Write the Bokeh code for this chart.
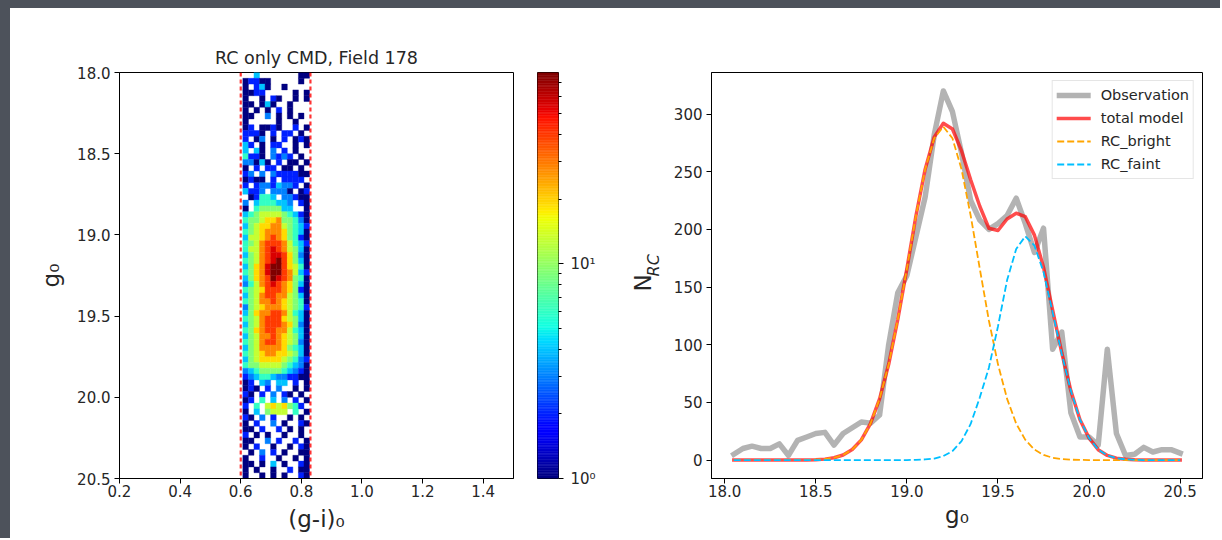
import math
import numpy as np
from bokeh.plotting import figure
from bokeh.layouts import row, column
from bokeh.models import (Range1d, LogColorMapper, FixedTicker, PrintfTickFormatter,
                          Span, Legend, LegendItem, ColumnDataSource, LinearAxis, Spacer)
from bokeh.embed import file_html
from bokeh.resources import INLINE

# ------------------------------------------------------------------ data
# right panel: luminosity function of the red clump (N_RC vs g0)
g0_centers = [18.05, 18.10, 18.15, 18.20, 18.25, 18.30, 18.35, 18.40, 18.45, 18.50,
              18.55, 18.60, 18.65, 18.70, 18.75, 18.80, 18.85, 18.90, 18.95, 19.00,
              19.05, 19.10, 19.15, 19.20, 19.25, 19.30, 19.35, 19.40, 19.45, 19.50,
              19.55, 19.60, 19.65, 19.70, 19.75, 19.80, 19.85, 19.90, 19.95, 20.00,
              20.05, 20.10, 20.15, 20.20, 20.25, 20.30, 20.35, 20.40, 20.45, 20.50]
n_observation = [5, 10, 12, 10, 10, 14, 4, 17, 20, 23,
                 24, 13, 23, 28, 33, 32, 39, 100, 145, 160,
                 194, 228, 282, 320, 302, 266, 225, 208, 200, 205,
                 212, 227, 205, 180, 201, 96, 111, 41, 20, 20,
                 13, 96, 23, 4, 5, 11, 7, 9, 9, 6]
n_total_model = [0, 0, 0, 0, 0, 0, 0, 0, 0.1, 0.3,
                 0.8, 2, 4.4, 9.1, 17.5, 31.5, 53, 83, 122, 166,
                 212, 252, 280, 292, 287, 268, 243, 220, 201, 199,
                 209, 214, 211, 195, 167, 130, 93, 60, 35, 19,
                 9, 4, 1.6, 0.6, 0.2, 0, 0, 0, 0, 0]
n_rc_bright = [0, 0, 0, 0, 0, 0, 0, 0, 0.1, 0.3,
               0.8, 2, 4.4, 9.1, 17.5, 31.5, 53, 83, 122, 166,
               212, 252, 279, 289, 279, 252, 212, 166, 121, 83,
               53, 31.5, 17.5, 9.1, 4.4, 2, 0.8, 0.3, 0.1, 0,
               0, 0, 0, 0, 0, 0, 0, 0, 0, 0]
n_rc_faint = [0, 0, 0, 0, 0, 0, 0, 0, 0, 0,
              0, 0, 0, 0, 0, 0, 0, 0, 0, 0,
              0.2, 0.5, 1.3, 3.4, 7.8, 16.4, 31.3, 54.2, 80, 116,
              156, 183, 194, 186, 163, 128, 92, 60, 35, 19,
              9, 4, 1.6, 0.6, 0.2, 0, 0, 0, 0, 0]

# left panel: RC-only colour-magnitude diagram (2D histogram, log colour scale)
color_cuts = [0.60, 0.83]          # (g-i)0 selection window (red dashed lines)
hist_color_range = [0.607, 0.827]  # (g-i)0 extent of the histogram cells
mag_limits = [18.0, 20.5]          # g0 range of the histogram
# one string per g0 row (top = bright), one character per (g-i)0 column
cmd_rows = [
    "..4.......11", "12211.....1.", "1.241..1....", "1122.....1.1", "1..1.21..1.1",
    "11.141..1...", "1.1.1.2.1...", "11..3.1.1.1.", "1.....1..1..", "12.1121..2.1",
    "2221.2.22.1.", "2.13.1.2.121", "42.1.22..1.1", "4.41.3.2.1..", "5221.3232.1.",
    "33141.2.11.1", "1.2.22.11.1.", "23.3.3222211", "1211.2.2222.", "2.23324332.1",
    "4223.3331.12", ".12554.33211", "3.4555443.21", "1.5666644..1", "456777765421",
    "566788966531", "467889976542", "567899986541", "47789A986521", "5679AAA97542",
    "5779ABA97641", "4679ABBA8631", "5679ABCA8641", "4689BCCA8751", "5689BCCA9742",
    "4689ACBA9651", "3579ABA98641", "5678AAA98621", "4679AA997641", "56799A987651",
    "367899987652", "46899AA97541", "5679AAA87641", "4679AAA98631", "5689AA997541",
    "46799A987641", "5679AA987631", "467999986541", "567899887641", "467888876532",
    "566777765431", "345666654321", "234554332211", "12.43.44.2.1", "121.2.3..1.1",
    "21.2.3.21.1.", "12.5.4.3.2.1", "2.5.7878652.", "1.4.6777.5.1", "21.3.2..1.1.",
    "1.2..3.1..21", "11.2..2.1.1.", "2.1.1..1..1.", "11..3.2..2.1", "1.2..1..1.21",
    ".1.3.2.1..11", "1..2..1..1.1", "11.1.4.1..21", "1.1..1..2.11", "1..1.1.1..21",
]
cell_counts = {".": 0, "1": 1, "2": 2, "3": 3, "4": 4, "5": 6, "6": 9, "7": 13,
               "8": 19, "9": 28, "A": 40, "B": 55, "C": 78}

x_ticks_cmd = [0.2, 0.4, 0.6, 0.8, 1.0, 1.2, 1.4]
y_ticks_cmd = [18.0, 18.5, 19.0, 19.5, 20.0, 20.5]
cbar_major = [1, 10]
cbar_minor = [2, 3, 4, 5, 6, 7, 8, 9, 20, 30, 40, 50, 60, 70]
cbar_labels = {1: "10\u2070", 10: "10\u00b9"}
x_ticks_lf = [18.0, 18.5, 19.0, 19.5, 20.0, 20.5]
y_ticks_lf = [0, 50, 100, 150, 200, 250, 300]

# ------------------------------------------------------------------ style helpers
FONT = "DejaVu Sans"
TXT = "#262626"
NBSP = "\u00a0"
SLATE = "#4d525b"
H = 530
TOP, BOT = 64, 60


def jet(n=256):
    t = np.linspace(0, 1, n)
    r = np.interp(t, [0, 0.35, 0.66, 0.89, 1], [0, 0, 1, 1, 0.5])
    g = np.interp(t, [0, 0.125, 0.375, 0.64, 0.91, 1], [0, 0, 1, 1, 0, 0])
    b = np.interp(t, [0, 0.11, 0.34, 0.65, 1], [0.5, 1, 1, 0, 0])
    return ["#%02x%02x%02x" % (int(round(255 * a)), int(round(255 * c)), int(round(255 * d)))
            for a, c, d in zip(r, g, b)]


JET = jet()


def style(p):
    p.grid.visible = False
    p.outline_line_color = "black"
    p.outline_line_width = 1
    p.background_fill_color = "white"
    p.border_fill_color = "white"
    for ax in p.axis:
        ax.axis_line_color = "black"
        ax.major_tick_line_color = "black"
        ax.major_tick_in = 0
        ax.major_tick_out = 5
        ax.minor_tick_line_color = None
        ax.major_label_text_font = FONT
        ax.major_label_text_font_size = "15px"
        ax.major_label_text_color = TXT
        ax.axis_label_text_font = FONT
        ax.axis_label_text_font_size = "23px"
        ax.axis_label_text_font_style = "normal"
        ax.axis_label_text_color = TXT
    for ax in p.xaxis:
        ax.major_label_standoff = 1
    for ax in p.yaxis:
        ax.major_label_standoff = 4


# ------------------------------------------------------------------ left: CMD
n_rows = len(cmd_rows)
n_cols = len(cmd_rows[0])
col_edges = np.linspace(hist_color_range[0], hist_color_range[1], n_cols + 1)
row_edges = np.linspace(mag_limits[0], mag_limits[1], n_rows + 1)
cells = dict(left=[], right=[], top=[], bottom=[], count=[])
for r, line in enumerate(cmd_rows):
    for c, ch in enumerate(line):
        n = cell_counts[ch]
        if n > 0:
            cells["left"].append(col_edges[c])
            cells["right"].append(col_edges[c + 1])
            cells["top"].append(row_edges[r])
            cells["bottom"].append(row_edges[r + 1])
            cells["count"].append(n)
cmax = max(cells["count"])
mapper = LogColorMapper(palette=JET, low=1, high=cmax)

p1 = figure(width=513, height=H, x_range=Range1d(0.2, 1.5),
            y_range=Range1d(mag_limits[1], mag_limits[0]),
            min_border_left=109, min_border_right=10, min_border_top=TOP, min_border_bottom=BOT,
            output_backend="svg", toolbar_location=None, title="RC only CMD, Field 178")
p1.quad(left="left", right="right", top="top", bottom="bottom", source=ColumnDataSource(cells),
        fill_color={"field": "count", "transform": mapper},
        line_color={"field": "count", "transform": mapper}, line_width=0.4)
for xc in color_cuts:
    p1.add_layout(Span(location=xc, dimension="height", line_color="red", line_alpha=0.8,
                       line_width=2.2, line_dash="4 3"))
style(p1)
p1.xaxis.ticker = FixedTicker(ticks=x_ticks_cmd)
p1.xaxis.formatter = PrintfTickFormatter(format="%.1f")
p1.yaxis.ticker = FixedTicker(ticks=y_ticks_cmd)
p1.yaxis.formatter = PrintfTickFormatter(format="%.1f")
p1.xaxis.axis_label = "(g-i)\u2080"
p1.xaxis.axis_label_standoff = 6
p1.yaxis.axis_label = "g\u2080"
p1.yaxis.axis_label_standoff = 10
p1.title.align = "center"
p1.title.text_font = FONT
p1.title.text_font_size = "17.5px"
p1.title.text_font_style = "normal"
p1.title.text_color = TXT

# ------------------------------------------------------------------ colour bar
pc = figure(width=97, height=H, x_range=Range1d(0, 1), y_range=Range1d(1, cmax),
            y_axis_type="log", y_axis_location="right", x_axis_location=None,
            min_border_left=14, min_border_right=62, min_border_top=TOP, min_border_bottom=BOT,
            output_backend="svg", toolbar_location=None)
lv = np.linspace(0, math.log10(cmax), len(JET) + 1)
pc.quad(left=0, right=1, bottom=10 ** lv[:-1], top=10 ** lv[1:], fill_color=JET, line_color=JET,
        line_width=0.5)
style(pc)
pc.yaxis.ticker = FixedTicker(ticks=cbar_major, minor_ticks=cbar_minor)
pc.yaxis.major_label_overrides = cbar_labels
pc.yaxis.minor_tick_line_color = "black"
pc.yaxis.minor_tick_in = 0
pc.yaxis.minor_tick_out = 3
pc.yaxis.major_label_standoff = 7
pc.yaxis.axis_line_color = None

# ------------------------------------------------------------------ right: luminosity function
xlo, xhi = min(g0_centers), max(g0_centers)
ylo, yhi = 0, max(n_observation)
xpad, ypad = 0.05 * (xhi - xlo), 0.05 * (yhi - ylo)
p2 = figure(width=600, height=H, x_range=Range1d(xlo - xpad, xhi + xpad),
            y_range=Range1d(ylo - ypad, yhi + ypad),
            min_border_left=91, min_border_right=18, min_border_top=TOP, min_border_bottom=BOT,
            output_backend="svg", toolbar_location=None)
r_obs = p2.line(g0_centers, n_observation, line_color="gray", line_alpha=0.6, line_width=5.5,
                line_join="round", line_cap="square")
r_tot = p2.line(g0_centers, n_total_model, line_color="red", line_alpha=0.7, line_width=3.5,
                line_join="round", line_cap="square")
r_br = p2.line(g0_centers, n_rc_bright, line_color="orange", line_width=1.8, line_dash="7 3")
r_fa = p2.line(g0_centers, n_rc_faint, line_color="deepskyblue", line_width=1.8, line_dash="7 3")
style(p2)
p2.xaxis.ticker = FixedTicker(ticks=x_ticks_lf)
p2.xaxis.formatter = PrintfTickFormatter(format="%.1f")
p2.yaxis.ticker = FixedTicker(ticks=y_ticks_lf)
p2.xaxis.axis_label = "g\u2080"
p2.xaxis.axis_label_standoff = 2
# y label N_RC: subscript "RC" on the main axis, "N" on an outer label-only axis
p2.yaxis.axis_label = NBSP * 4 + "RC"
p2.yaxis.axis_label_text_font_size = "16px"
p2.yaxis.axis_label_text_font_style = "italic"
p2.yaxis.axis_label_standoff = 8
ax_n = LinearAxis(ticker=FixedTicker(ticks=[]), axis_label="N" + NBSP * 2,
                  axis_label_text_font=FONT, axis_label_text_font_size="23px",
                  axis_label_text_font_style="normal", axis_label_text_color=TXT,
                  axis_label_standoff=-15, axis_line_color=None, major_tick_line_color=None,
                  minor_tick_line_color=None, major_label_standoff=0, major_tick_out=0,
                  major_tick_in=0, minor_tick_out=0, minor_tick_in=0)
p2.add_layout(ax_n, "left")
legend = Legend(items=[LegendItem(label="Observation", renderers=[r_obs]),
                       LegendItem(label="total model", renderers=[r_tot]),
                       LegendItem(label="RC_bright", renderers=[r_br]),
                       LegendItem(label="RC_faint", renderers=[r_fa])],
                location="top_right", margin=8, padding=4, spacing=3, glyph_width=34,
                glyph_height=20, label_height=20, label_standoff=10,
                label_text_font=FONT, label_text_font_size="14.5px", label_text_color=TXT,
                border_line_color="#cccccc", border_line_width=1, background_fill_alpha=0.8)
p2.add_layout(legend)

# slate slide border seen at the top and left of the reference
top_strip = Spacer(width=1220, height=8, styles={"background-color": SLATE})
left_strip = Spacer(width=10, height=H, styles={"background-color": SLATE})
layout = column(top_strip, row(left_strip, p1, pc, p2))
open("out.html", "w").write(file_html(layout, INLINE))
